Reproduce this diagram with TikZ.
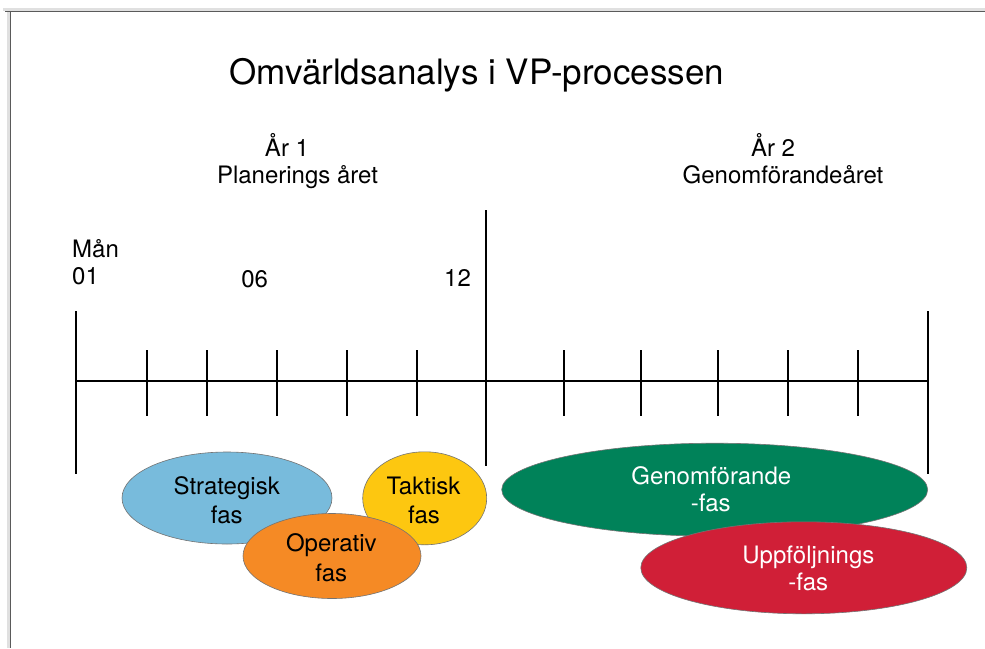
\documentclass[tikz,border=0pt]{standalone}
\usepackage{fontspec}
\setmainfont{TeX Gyre Heros}
\usetikzlibrary{shapes.geometric}
\definecolor{phblue}{HTML}{78BBDC}
\definecolor{phyellow}{HTML}{FDC710}
\definecolor{phorange}{HTML}{F58A25}
\definecolor{phgreen}{HTML}{008259}
\definecolor{phred}{HTML}{D01F37}
\definecolor{framegray}{HTML}{5A5A5A}
\begin{document}
\begin{tikzpicture}[x=1pt,y=-1pt,
  txt/.style={inner sep=0pt,anchor=base,font=\fontsize{24}{29}\selectfont},
  txtl/.style={txt,anchor=base west},
  wtxt/.style={txt,text=white},
  axis/.style={line width=1.3pt,black},
  blob/.style={ellipse,draw=black!55,line width=0.6pt,inner sep=0pt}]
\useasboundingbox (0,0) rectangle (985,648);
\fill[white] (0,0) rectangle (985,648);
% frame with faint shadow
\draw[black!12,line width=3pt] (3,9) -- (985,9);
\draw[black!12,line width=3pt] (8,9) -- (8,648);
\draw[framegray,line width=1.4pt] (5,11.5) -- (985,11.5);
\draw[framegray,line width=1.4pt] (10.3,11.5) -- (10.3,648);
% title
\node[txt,font=\fontsize{35}{40}\selectfont] (title) at (476.7,84) {Omvärldsanalys i VP-processen};
% year labels
\node[txt] (y1) at (287,156) {År 1};
\node[txt] (y1b) at (297.5,183) {Planerings året};
\node[txt] (y2) at (773,156) {År 2};
\node[txt] (y2b) at (783,183) {Genomförandeåret};
% month labels
\node[txtl] (man) at (72,257.3) {Mån};
\node[txtl] (m01) at (72,284) {01};
\node[txt] (m06) at (254.7,287.3) {06};
\node[txt] (m12) at (457.5,286.7) {12};
% timeline
\draw[axis] (76,381) -- (928,381);
\draw[axis] (76,311) -- (76,474);
\draw[axis] (486,210) -- (486,466);
\draw[axis] (928,311) -- (928,474);
\foreach \x in {147,207,277,347,417,564,641,718,788,858}
  \draw[axis] (\x,350) -- (\x,415.5);
% phases
\node[blob,fill=phblue,minimum width=210pt,minimum height=92pt] (strat) at (227,498) {};
\node[blob,fill=phyellow,minimum width=124pt,minimum height=93pt] (takt) at (424.7,498.3) {};
\node[blob,fill=phorange,minimum width=178pt,minimum height=85pt] (oper) at (332,556) {};
\node[blob,fill=phgreen,minimum width=426pt,minimum height=93pt] (genom) at (714.7,489.7) {};
\node[blob,fill=phred,minimum width=326pt,minimum height=92pt] (uppf) at (803.8,567.8) {};
% phase texts
\node[txt] (stratA) at (226.7,494.3) {Strategisk};
\node[txt] (stratB) at (226.7,523.3) {fas};
\node[txt] (taktA) at (423.5,494.3) {Taktisk};
\node[txt] (taktB) at (424,523.3) {fas};
\node[txt] (operA) at (331.3,551.7) {Operativ};
\node[txt] (operB) at (331.3,581.7) {fas};
\node[wtxt] (genomA) at (711.3,484.3) {Genomförande};
\node[wtxt] (genomB) at (710.8,511.7) {-fas};
\node[wtxt] (uppfA) at (808.3,563.3) {Uppföljnings};
\node[wtxt] (uppfB) at (808.3,590.7) {-fas};
\end{tikzpicture}
\end{document}
